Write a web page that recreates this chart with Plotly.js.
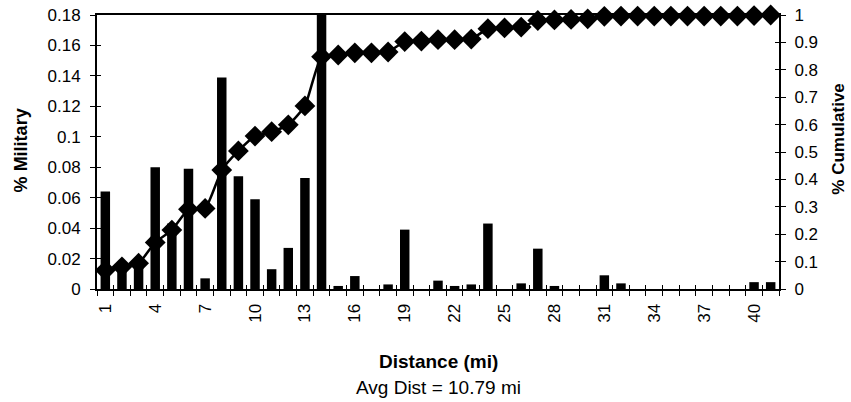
<!DOCTYPE html>
<html>
<head>
<meta charset="utf-8">
<script src="https://cdn.plot.ly/plotly-3.0.1.min.js"></script>
<style>html,body{margin:0;padding:0;background:#fff;}#chart{width:851px;height:402px;}</style>
</head>
<body>
<div id="chart"></div>
<script>
// Distance categories (miles)
var distances = [1,2,3,4,5,6,7,8,9,10,11,12,13,14,15,16,17,18,19,20,21,22,23,24,25,26,27,28,29,30,31,32,33,34,35,36,37,38,39,40,41];
// % Military per distance (left axis)
var pctMilitary = [0.064,0.013,0.015,0.080,0.043,0.079,0.007,0.139,0.074,0.059,0.013,0.027,0.073,0.185,
                   0.002,0.0085,0,0.003,0.039,0,0.0055,0.002,0.003,0.043,0,0.0037,0.0265,0.002,0,0,
                   0.009,0.0037,0,0,0,0,0,0,0,0.0045,0.0045];
// % Cumulative (right axis)
var pctCumulative = [0.068,0.081,0.094,0.170,0.215,0.291,0.294,0.434,0.504,0.558,0.574,0.599,0.668,0.848,
                     0.854,0.862,0.862,0.865,0.903,0.905,0.910,0.910,0.912,0.950,0.953,0.956,0.980,0.982,0.984,0.986,
                     0.995,0.996,0.996,0.996,0.996,0.996,0.996,0.996,0.996,0.998,1.0];
// Tick labels
var xTickVals = [1,4,7,10,13,16,19,22,25,28,31,34,37,40];
var xTickText = ['1','4','7','10','13','16','19','22','25','28','31','34','37','40'];
var xBoundaries = [];
for (var i = 0; i <= distances.length; i++) xBoundaries.push(i + 0.5);
var yLeftVals = [0,0.02,0.04,0.06,0.08,0.1,0.12,0.14,0.16,0.18];
var yLeftText = ['0','0.02','0.04','0.06','0.08','0.1','0.12','0.14','0.16','0.18'];
var yRightVals = [0,0.1,0.2,0.3,0.4,0.5,0.6,0.7,0.8,0.9,1];
var yRightText = ['0','0.1','0.2','0.3','0.4','0.5','0.6','0.7','0.8','0.9','1'];

var FONT = 'Liberation Sans, Arial, sans-serif';

var traces = [
  {type:'bar', x:distances, y:pctMilitary, marker:{color:'#000'}, xaxis:'x', yaxis:'y', hoverinfo:'skip'},
  {type:'scatter', mode:'lines+markers', x:distances, y:pctCumulative, xaxis:'x', yaxis:'y2',
   line:{color:'#000', width:2.5, shape:'spline', smoothing:0.5},
   marker:{symbol:'diamond', size:16, color:'#000'}, cliponaxis:false, hoverinfo:'skip'},
  // empty helper traces so the overlay tick axes are drawn
  {type:'scatter', x:[], y:[], xaxis:'x2', yaxis:'y3', showlegend:false},
  {type:'scatter', x:[], y:[], xaxis:'x', yaxis:'y4', showlegend:false}
];

var layout = {
  width:851, height:402,
  margin:{l:97, r:72, t:15, b:113},
  paper_bgcolor:'#fff', plot_bgcolor:'#fff',
  showlegend:false,
  bargap:0.43,
  font:{family:FONT, size:17, color:'#000'},
  xaxis:{range:[0.5,41.5], tickmode:'array', tickvals:xTickVals, ticktext:xTickText,
         tickangle:-90, ticks:'', showgrid:false, zeroline:false,
         showline:true, linecolor:'#000', linewidth:2, mirror:true,
         tickfont:{family:FONT, size:17, color:'#000'}, ticklabelstandoff:6,
         minor:{tickmode:'linear', tick0:0.5, dtick:1, ticks:'outside', ticklen:5, tickwidth:1, tickcolor:'#000', showgrid:false},
         fixedrange:true},
  xaxis2:{overlaying:'x', anchor:'y', matches:'x', tickmode:'array', tickvals:xBoundaries,
          ticks:'inside', ticklen:4, tickwidth:1, tickcolor:'#000', showticklabels:false,
          showgrid:false, zeroline:false, showline:false},
  yaxis:{range:[0,0.18], tickmode:'array', tickvals:yLeftVals, ticktext:yLeftText,
         ticks:'outside', ticklen:5, tickwidth:1, tickcolor:'#000',
         showgrid:false, zeroline:false, showline:true, linecolor:'#000', linewidth:2,
         tickfont:{family:FONT, size:17, color:'#000'}, ticklabelstandoff:6},
  yaxis3:{overlaying:'y', anchor:'x2', side:'left', matches:'y', tickmode:'array', tickvals:yLeftVals,
          ticks:'inside', ticklen:4, tickwidth:1, tickcolor:'#000', showticklabels:false,
          showgrid:false, zeroline:false, showline:false},
  yaxis2:{overlaying:'y', side:'right', anchor:'x', range:[0,1], tickmode:'array', tickvals:yRightVals, ticktext:yRightText,
          ticks:'outside', ticklen:5, tickwidth:1, tickcolor:'#000',
          showgrid:false, zeroline:false, showline:true, linecolor:'#000', linewidth:2,
          tickfont:{family:FONT, size:17, color:'#000'}, ticklabelstandoff:5},
  yaxis4:{overlaying:'y', side:'right', anchor:'x', range:[0,1], tickmode:'array', tickvals:yRightVals,
          ticks:'inside', ticklen:4, tickwidth:1, tickcolor:'#000', showticklabels:false,
          showgrid:false, zeroline:false, showline:false},
  annotations:[
    {text:'<b>% Military</b>', xref:'paper', yref:'paper', x:-0.111, y:0.507, xanchor:'center', yanchor:'middle',
     textangle:-90, showarrow:false, font:{family:FONT, size:18, color:'#000'}},
    {text:'<b>% Cumulative</b>', xref:'paper', yref:'paper', x:1.088, y:0.545, xanchor:'center', yanchor:'middle',
     textangle:-90, showarrow:false, font:{family:FONT, size:17, color:'#000'}},
    {text:'<b>Distance (mi)</b>', xref:'paper', yref:'paper', x:0.5, y:-0.265, xanchor:'center', yanchor:'middle',
     showarrow:false, font:{family:FONT, size:19, color:'#000'}},
    {text:'Avg Dist = 10.79 mi', xref:'paper', yref:'paper', x:0.5, y:-0.358, xanchor:'center', yanchor:'middle',
     showarrow:false, font:{family:FONT, size:19, color:'#000'}}
  ]
};

Plotly.newPlot('chart', traces, layout, {displayModeBar:false, staticPlot:true});
</script>
</body>
</html>
